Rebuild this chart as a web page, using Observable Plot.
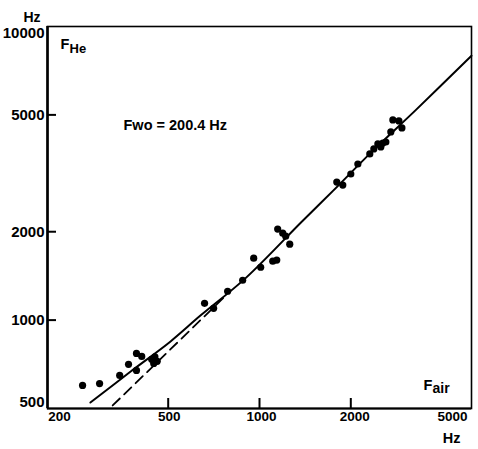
<!DOCTYPE html>
<html>
<head>
<meta charset="utf-8">
<script src="https://cdn.jsdelivr.net/npm/d3@7"></script>
<script src="https://cdn.jsdelivr.net/npm/@observablehq/plot@0.6"></script>
<style>
  body { margin: 0; background: #fff; }
  svg { font-family: "Liberation Sans", Arial, sans-serif; }
</style>
</head>
<body>
<div id="chart"></div>
<script>
const xTicks = [200, 500, 1000, 2000, 5000];
const yTicks = [500, 1000, 2000, 5000, 10000];

// measured points: F_air (Hz) vs F_He (Hz)
const fAir = [261, 297, 346, 370, 393, 409, 393, 441, 452, 460, 448,
  659, 706, 785, 880, 957, 1009, 1106, 1140, 1148, 1193, 1220, 1258,
  1798, 1882, 2000, 2110, 2310, 2382, 2456, 2550, 2610, 2512, 2710, 2752, 2881, 2948];
const fHe = [599, 608, 648, 707, 770, 752, 674, 735, 750, 724, 712,
  1141, 1097, 1254, 1367, 1625, 1514, 1588, 1601, 2042, 1978, 1932, 1814,
  2953, 2884, 3145, 3402, 3680, 3828, 3981, 4011, 4043, 3889, 4375, 4806, 4768, 4514];

// solid curve
const curveAir = [277, 376, 509, 640, 900, 1370, 1750, 2330, 3280, 5000];
const curveHe  = [524, 668, 846, 1038, 1390, 2150, 2760, 3720, 5200, 7950];

// dashed line
const dashAir = [328, 760];
const dashHe  = [512, 1190];

const points = fAir.map((a, i) => ({air: a, he: fHe[i]}));
const curve = curveAir.map((a, i) => ({air: a, he: curveHe[i]}));
const dashed = dashAir.map((a, i) => ({air: a, he: dashHe[i]}));

const yLab = [
  {v: 10000, dy: 7}, {v: 5000, dy: 0}, {v: 2000, dy: 0}, {v: 1000, dy: 0}, {v: 500, dy: -6}
];
const xLab = [
  {v: 200, dx: 12}, {v: 500, dx: 1}, {v: 1000, dx: 2}, {v: 2000, dx: 4}, {v: 5000, dx: -19}
];

const bold = {fontWeight: "bold", fill: "#000"};

const chart = Plot.plot({
  width: 478,
  height: 449,
  marginLeft: 47,
  marginRight: 7,
  marginTop: 26,
  marginBottom: 41,
  x: {type: "log", domain: [200, 5000], axis: null},
  y: {type: "log", domain: [500, 10000], axis: null},
  marks: [
    Plot.frame({stroke: "#000", strokeWidth: 1.6}),
    Plot.ruleX([200], {stroke: "#000", strokeWidth: 2.6}),
    Plot.ruleY([500], {stroke: "#000", strokeWidth: 2.2}),
    Plot.axisY({ticks: [1000, 2000, 5000], tickSize: -9, tickFormat: () => "", label: null, strokeWidth: 2}),
    Plot.axisX({ticks: [500, 1000, 2000], tickSize: -10, tickFormat: () => "", label: null, strokeWidth: 2}),
    ...yLab.map(d => Plot.text([d.v], {y: v => v, frameAnchor: "left", dx: -3, dy: d.dy,
      textAnchor: "end", text: v => String(v), fontSize: 15, ...bold})),
    ...xLab.map(d => Plot.text([d.v], {x: v => v, frameAnchor: "bottom", dx: d.dx, dy: 12,
      text: v => String(v), fontSize: 13.5, ...bold})),
    Plot.line(dashed, {x: "air", y: "he", stroke: "#000", strokeWidth: 1.8, strokeDasharray: "10,6"}),
    Plot.line(curve, {x: "air", y: "he", stroke: "#000", strokeWidth: 2, curve: "catmull-rom"}),
    Plot.dot(points, {x: "air", y: "he", r: 3.6, fill: "#000", stroke: "none"}),
    // axis unit labels
    Plot.text(["Hz"], {frameAnchor: "top-left", dx: -24, dy: -14, fontSize: 14, ...bold}),
    Plot.text(["Hz"], {frameAnchor: "bottom-right", dx: -11, dy: 34, fontSize: 14.5, ...bold}),
    // F_He label
    Plot.text(["F"], {frameAnchor: "top-left", dx: 13, dy: 12, textAnchor: "start", fontSize: 14.5, ...bold}),
    Plot.text(["He"], {frameAnchor: "top-left", dx: 22, dy: 17, textAnchor: "start", fontSize: 13, ...bold}),
    // F_air label
    Plot.text(["F"], {frameAnchor: "bottom-right", dx: -48, dy: -19, textAnchor: "start", fontSize: 14.5, ...bold}),
    Plot.text(["air"], {frameAnchor: "bottom-right", dx: -39, dy: -16, textAnchor: "start", fontSize: 14, ...bold}),
    // Fwo annotation
    Plot.text(["Fwo = 200.4 Hz"], {frameAnchor: "top-left", dx: 76, dy: 93, textAnchor: "start", fontSize: 14.5, fontWeight: 600})
  ]
});
document.getElementById("chart").appendChild(chart);
</script>
</body>
</html>
